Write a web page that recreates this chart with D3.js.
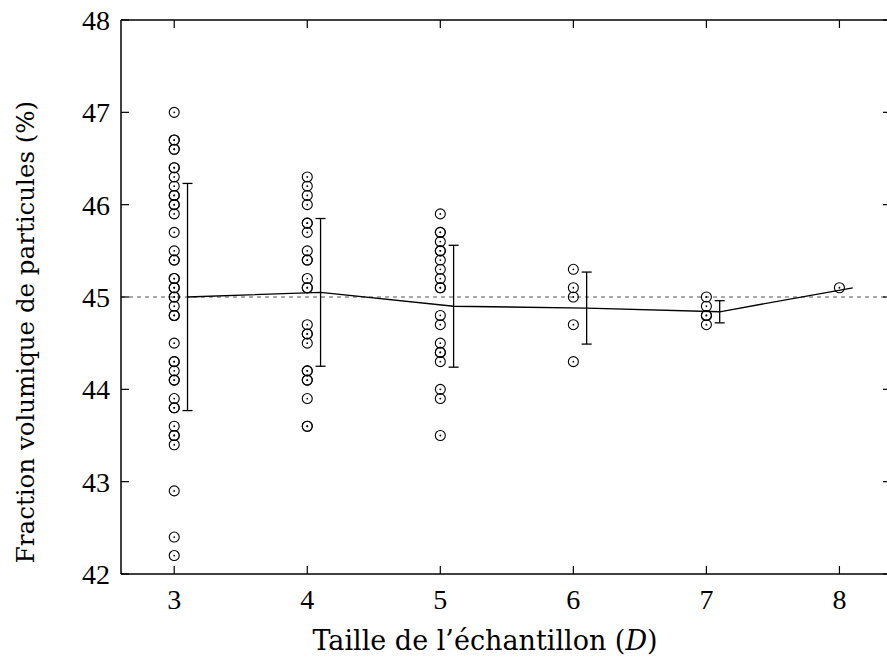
<!DOCTYPE html>
<html>
<head>
<meta charset="utf-8">
<title>Fraction volumique</title>
<script src="https://d3js.org/d3.v7.min.js"></script>
<style>
  body { margin:0; background:#fff; }
  text { font-family: "Liberation Serif", "DejaVu Serif", serif; fill:#000; }
  text.title { font-family: "DejaVu Serif", "Liberation Serif", serif; }
</style>
</head>
<body>
<svg id="chart" width="887" height="660"></svg>
<script>
// sample sizes (D) and the measured fractions for each
var sizes = [3, 4, 5, 6, 7, 8];
var samples3 = [47.0, 46.7, 46.7, 46.6, 46.6, 46.4, 46.4, 46.3, 46.2, 46.1, 46.1, 46.0, 46.0, 45.9,
                45.7, 45.5, 45.4, 45.4, 45.2, 45.2, 45.1, 45.1, 45.0, 45.0, 44.9, 44.8, 44.8,
                44.5, 44.3, 44.3, 44.2, 44.1, 44.1, 43.9, 43.8, 43.8, 43.6, 43.5, 43.5, 43.4,
                42.9, 42.4, 42.2];
var samples4 = [46.3, 46.2, 46.1, 46.0, 45.8, 45.8, 45.7, 45.5, 45.4, 45.4, 45.2, 45.1, 45.1,
                44.7, 44.6, 44.6, 44.5, 44.2, 44.2, 44.1, 44.1, 43.9, 43.6, 43.6];
var samples5 = [45.9, 45.7, 45.7, 45.6, 45.5, 45.5, 45.4, 45.3, 45.2, 45.1, 45.1,
                44.8, 44.7, 44.5, 44.4, 44.4, 44.3, 44.0, 43.9, 43.5];
var samples6 = [45.3, 45.1, 45.0, 44.7, 44.3];
var samples7 = [45.0, 44.9, 44.8, 44.8, 44.7];
var samples8 = [45.1];
var allSamples = [samples3, samples4, samples5, samples6, samples7, samples8];

// mean and standard deviation
var means = [45.0, 45.05, 44.9, 44.88, 44.84, 45.1];
var stdevs = [1.23, 0.80, 0.66, 0.39, 0.12, 0];
var refValue = 45;

var yTicks = [42, 43, 44, 45, 46, 47, 48];
var xTicks = [3, 4, 5, 6, 7, 8];

var svg = d3.select("#chart");
var mLeft = 121, mRight = 887, mTop = 20, mBottom = 574;

var sx = d3.scaleLinear().domain([2.6, 8.35]).range([mLeft, mRight - 1]);
var sy = d3.scaleLinear().domain([42, 48]).range([mBottom, mTop]);

// reference dashed line
svg.append("line")
  .attr("x1", mLeft).attr("x2", mRight)
  .attr("y1", sy(refValue)).attr("y2", sy(refValue))
  .attr("stroke", "#555").attr("stroke-width", 1)
  .attr("stroke-dasharray", "4,4");

// points
var pts = [];
allSamples.forEach(function(s, i) {
  s.forEach(function(v) { pts.push({x: sizes[i], y: v}); });
});
var pg = svg.append("g");
pg.selectAll("circle.o").data(pts).enter().append("circle")
  .attr("class", "o")
  .attr("cx", function(d) { return sx(d.x); })
  .attr("cy", function(d) { return sy(d.y); })
  .attr("r", 5)
  .attr("fill", "none").attr("stroke", "#000").attr("stroke-width", 1.1);
pg.selectAll("circle.c").data(pts).enter().append("circle")
  .attr("class", "c")
  .attr("cx", function(d) { return sx(d.x); })
  .attr("cy", function(d) { return sy(d.y); })
  .attr("r", 0.9).attr("fill", "#000");

// mean line, slightly offset to the right of the points
var off = 0.1;
var meanData = sizes.map(function(s, i) { return {x: s + off, m: means[i], sd: stdevs[i]}; });
svg.append("path")
  .datum(meanData)
  .attr("fill", "none").attr("stroke", "#000").attr("stroke-width", 1.3)
  .attr("d", d3.line().x(function(d) { return sx(d.x); }).y(function(d) { return sy(d.m); }));

// error bars
var eb = svg.append("g").attr("stroke", "#000").attr("stroke-width", 1.3);
meanData.forEach(function(d) {
  if (d.sd <= 0) return;
  var x = sx(d.x);
  eb.append("line").attr("x1", x).attr("x2", x).attr("y1", sy(d.m + d.sd)).attr("y2", sy(d.m - d.sd));
  eb.append("line").attr("x1", x - 5).attr("x2", x + 5).attr("y1", sy(d.m + d.sd)).attr("y2", sy(d.m + d.sd));
  eb.append("line").attr("x1", x - 5).attr("x2", x + 5).attr("y1", sy(d.m - d.sd)).attr("y2", sy(d.m - d.sd));
});

// frame: left, bottom, top (right edge lies outside the picture)
var fr = svg.append("g").attr("stroke", "#000").attr("stroke-width", 1.5);
fr.append("line").attr("x1", mLeft).attr("x2", mLeft).attr("y1", mTop).attr("y2", mBottom);
fr.append("line").attr("x1", mLeft).attr("x2", mRight).attr("y1", mBottom).attr("y2", mBottom);
fr.append("line").attr("x1", mLeft).attr("x2", mRight).attr("y1", mTop).attr("y2", mTop);

// inward ticks
var tk = svg.append("g").attr("stroke", "#000").attr("stroke-width", 1.2);
yTicks.forEach(function(t) {
  tk.append("line").attr("x1", mLeft).attr("x2", mLeft + 8).attr("y1", sy(t)).attr("y2", sy(t));
  tk.append("line").attr("x1", mRight - 4).attr("x2", mRight).attr("y1", sy(t)).attr("y2", sy(t));
});
xTicks.forEach(function(t) {
  tk.append("line").attr("x1", sx(t)).attr("x2", sx(t)).attr("y1", mBottom).attr("y2", mBottom - 8);
  tk.append("line").attr("x1", sx(t)).attr("x2", sx(t)).attr("y1", mTop).attr("y2", mTop + 8);
});

// tick labels
svg.append("g").selectAll("text").data(yTicks).enter().append("text")
  .attr("x", mLeft - 11).attr("y", function(d) { return sy(d) + 10; })
  .attr("text-anchor", "end").attr("font-size", 28)
  .text(function(d) { return d; });
svg.append("g").selectAll("text").data(xTicks).enter().append("text")
  .attr("x", function(d) { return sx(d); }).attr("y", 609)
  .attr("text-anchor", "middle").attr("font-size", 28)
  .text(function(d) { return d; });

// axis titles
var xt = svg.append("text").attr("class", "title")
  .attr("x", 485).attr("y", 650).attr("text-anchor", "middle").attr("font-size", 27);
xt.append("tspan").text("Taille de l\u2019\u00e9chantillon (");
xt.append("tspan").attr("font-style", "italic").text("D");
xt.append("tspan").text(")");

svg.append("text").attr("class", "title")
  .attr("transform", "translate(34,332) rotate(-90)")
  .attr("text-anchor", "middle").attr("font-size", 24.5)
  .text("Fraction volumique de particules (%)");
</script>
</body>
</html>
